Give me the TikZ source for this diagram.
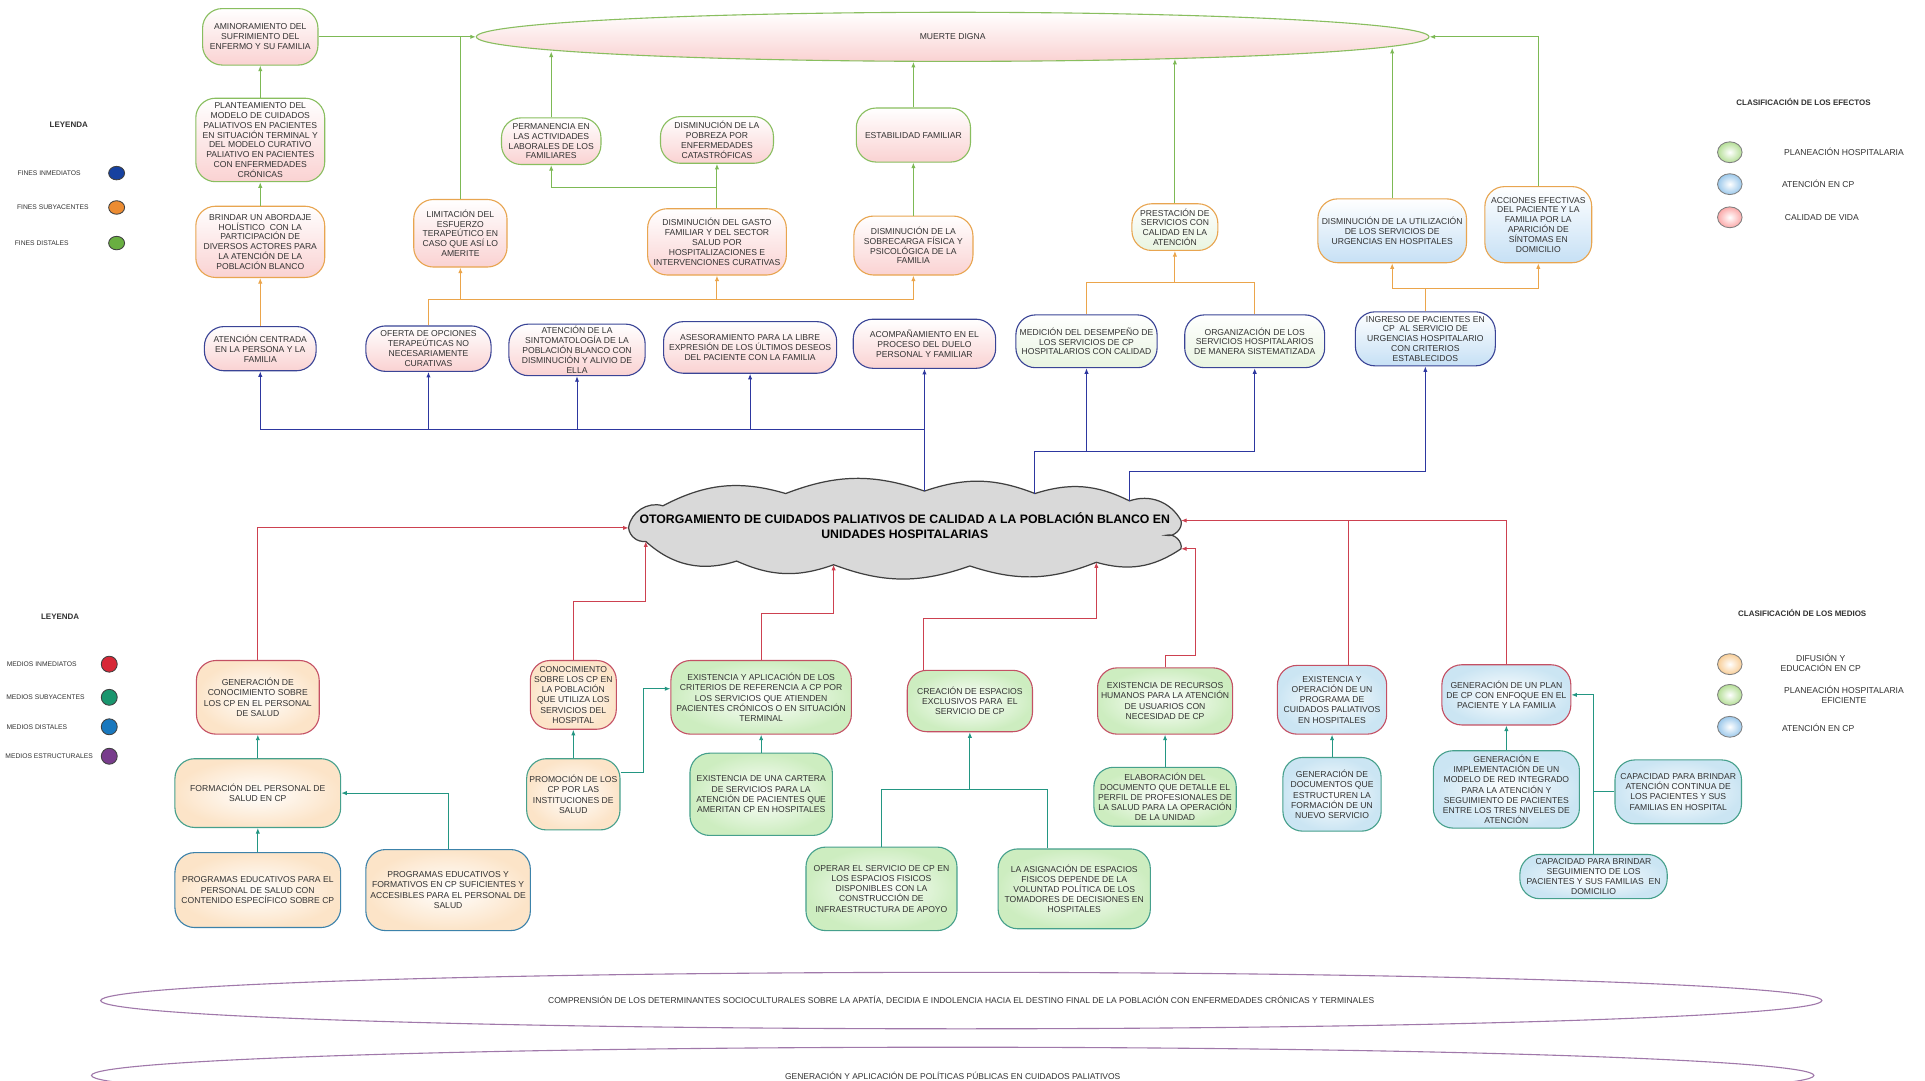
\documentclass[tikz,border=0pt]{standalone}
\usepackage{fontspec}
\setmainfont{Liberation Sans}
\usetikzlibrary{arrows.meta,shapes.geometric}
\definecolor{gB}{RGB}{137,190,95}
\definecolor{oB}{RGB}{232,165,80}
\definecolor{bB}{RGB}{58,68,150}
\definecolor{pkF}{RGB}{250,210,210}
\definecolor{blF}{RGB}{198,224,245}
\definecolor{grF}{RGB}{232,244,224}
\definecolor{rB}{RGB}{196,80,100}
\definecolor{tB}{RGB}{70,160,140}
\definecolor{sB}{RGB}{60,130,170}
\definecolor{peF}{RGB}{252,228,200}
\definecolor{lgF}{RGB}{205,237,192}
\definecolor{lbF}{RGB}{203,229,243}
\definecolor{gL}{RGB}{125,185,85}
\definecolor{oL}{RGB}{235,165,75}
\definecolor{bL}{RGB}{45,55,160}
\definecolor{rL}{RGB}{205,65,80}
\definecolor{tL}{RGB}{35,150,130}
\definecolor{puB}{RGB}{160,120,170}
\definecolor{txt}{RGB}{50,50,50}
\definecolor{cFI}{RGB}{22,65,160}
\definecolor{cFS}{RGB}{236,140,50}
\definecolor{cFD}{RGB}{105,175,65}
\definecolor{cMI}{RGB}{215,40,55}
\definecolor{cMS}{RGB}{25,150,110}
\definecolor{cMD}{RGB}{25,120,190}
\definecolor{cME}{RGB}{120,60,140}
\definecolor{cRo}{RGB}{248,205,150}
\definecolor{cRg}{RGB}{180,222,150}
\definecolor{cRb}{RGB}{155,200,235}
\definecolor{cloudF}{RGB}{217,217,217}
\begin{document}
\begin{tikzpicture}[x=1pt,y=-1pt]
\tikzset{
 bx/.style={rectangle, rounded corners=16pt, align=center, inner sep=1pt, font=\fontsize{7}{8}\selectfont, text=txt, line width=0.9pt},
 sz/.style 2 args={minimum width=#1pt, minimum height=#2pt},
 pk/.style={bx, top color=white, bottom color=pkF},
 blu/.style={bx, top color=white, bottom color=blF},
 grn/.style={bx, top color=white, bottom color=grF},
 bpe/.style={bx, font=\fontsize{7}{8.3}\selectfont, inner color=white, outer color=peF},
 bgr/.style={bx, font=\fontsize{7}{8.3}\selectfont, inner color=white, outer color=lgF},
 bbl/.style={bx, font=\fontsize{7}{8.3}\selectfont, inner color=white, outer color=lbF},
 con/.style={line width=0.8pt, -{Latex[length=4.5pt,width=3.5pt]}},
 lgr/.style={con, draw=gL},
 lor/.style={con, draw=oL},
 lbu/.style={con, draw=bL},
 lrd/.style={con, draw=rL},
 ltl/.style={con, draw=tL},
 cloudst/.style={draw=black!75, fill=cloudF, line width=1pt},
 lgc/.style={ellipse, draw=black!75, line width=0.7pt, inner sep=0pt, minimum width=13pt, minimum height=11pt},
 lgb/.style={ellipse, draw=black!50, line width=0.7pt, inner sep=0pt, minimum width=20pt, minimum height=17pt},
 lgs/.style={font=\fontsize{5.5}{6.5}\selectfont, text=txt, inner sep=0pt},
 lgm/.style={font=\fontsize{7}{8}\selectfont, text=txt, align=center, inner sep=0pt},
 lgh/.style={font=\bfseries\fontsize{6.5}{8}\selectfont, text=txt, inner sep=0pt},
 est/.style={ellipse, draw=puB, fill=white, line width=0.9pt, font=\fontsize{6.9}{8}\selectfont, text=txt}
}
\fill[white] (0,0) rectangle (1568,880);
\useasboundingbox (0,0) rectangle (1568,880);

% ---------------- top: effects ----------------
\node[ellipse, draw=gB, line width=0.9pt, top color=white, bottom color=pkF, minimum width=776pt, minimum height=40pt, font=\fontsize{7}{8}\selectfont, text=txt] (mdig) at (776,30) {MUERTE DIGNA};

\node[pk, draw=gB, sz={94}{46}] (amin) at (212,30) {AMINORAMIENTO DEL\\SUFRIMIENTO DEL\\ENFERMO Y SU FAMILIA};
\node[pk, draw=gB, sz={105}{68}] (plnt) at (212,114) {PLANTEAMIENTO DEL\\MODELO DE CUIDADOS\\PALIATIVOS EN PACIENTES\\EN SITUACIÓN TERMINAL Y\\DEL MODELO CURATIVO\\PALIATIVO EN PACIENTES\\CON ENFERMEDADES\\CRÓNICAS};
\node[pk, draw=oB, sz={105}{58}] (brin) at (212,197) {BRINDAR UN ABORDAJE\\HOLÍSTICO \ CON LA\\PARTICIPACIÓN DE\\DIVERSOS ACTORES PARA\\LA ATENCIÓN DE LA\\POBLACIÓN BLANCO};
\node[pk, draw=oB, sz={76}{55}] (limi) at (375,190) {LIMITACIÓN DEL\\ESFUERZO\\TERAPEÚTICO EN\\CASO QUE ASÍ LO\\AMERITE};
\node[pk, draw=gB, sz={81}{38}] (perm) at (449,115) {PERMANENCIA EN\\LAS ACTIVIDADES\\LABORALES DE LOS\\FAMILIARES};
\node[pk, draw=gB, sz={92}{38}] (pobr) at (584,114) {DISMINUCIÓN DE LA\\POBREZA POR\\ENFERMEDADES\\CATASTRÓFICAS};
\node[pk, draw=gB, sz={93}{44}] (esta) at (744,110) {ESTABILIDAD FAMILIAR};
\node[pk, draw=oB, sz={113}{54}] (gast) at (584,197) {DISMINUCIÓN DEL GASTO\\FAMILIAR Y DEL SECTOR\\SALUD POR\\HOSPITALIZACIONES E\\INTERVENCIONES CURATIVAS};
\node[pk, draw=oB, sz={97}{48}] (sobr) at (744,200) {DISMINUCIÓN DE LA\\SOBRECARGA FÍSICA Y\\PSICOLÓGICA DE LA\\FAMILIA};
\node[grn, draw=oB, sz={70}{38}] (pres) at (957,185) {PRESTACIÓN DE\\SERVICIOS CON\\CALIDAD EN LA\\ATENCIÓN};
\node[blu, draw=oB, sz={121}{52}] (util) at (1134,188) {DISMINUCIÓN DE LA UTILIZACIÓN\\DE LOS SERVICIOS DE\\URGENCIAS EN HOSPITALES};
\node[blu, draw=oB, sz={87}{62}] (acci) at (1253,183) {ACCIONES EFECTIVAS\\DEL PACIENTE Y LA\\FAMILIA POR LA\\APARICIÓN DE\\SÍNTOMAS EN\\DOMICILIO};

\node[pk, draw=bB, sz={91}{36}] (atcp) at (212,284) {ATENCIÓN CENTRADA\\EN LA PERSONA Y LA\\FAMILIA};
\node[pk, draw=bB, sz={102}{37}] (ofer) at (349,284) {OFERTA DE OPCIONES\\TERAPEÚTICAS NO\\NECESARIAMENTE\\CURATIVAS};
\node[pk, draw=bB, sz={111}{42}] (sint) at (470,285) {ATENCIÓN DE LA\\SINTOMATOLOGÍA DE LA\\POBLACIÓN BLANCO CON\\DISMINUCIÓN Y ALIVIO DE\\ELLA};
\node[pk, draw=bB, sz={141}{42}] (ases) at (611,283) {ASESORAMIENTO PARA LA LIBRE\\EXPRESIÓN DE LOS ÚLTIMOS DESEOS\\DEL PACIENTE CON LA FAMILIA};
\node[pk, draw=bB, sz={116}{40}] (acom) at (753,280) {ACOMPAÑAMIENTO EN EL\\PROCESO DEL DUELO\\PERSONAL Y FAMILIAR};
\node[grn, draw=bB, sz={115}{43}] (medi) at (885,278) {MEDICIÓN DEL DESEMPEÑO DE\\LOS SERVICIOS DE CP\\HOSPITALARIOS CON CALIDAD};
\node[grn, draw=bB, sz={114}{43}] (orga) at (1022,278) {ORGANIZACIÓN DE LOS\\SERVICIOS HOSPITALARIOS\\DE MANERA SISTEMATIZADA};
\node[blu, draw=bB, sz={114}{44}] (ingr) at (1161,276) {INGRESO DE PACIENTES EN\\CP \ AL SERVICIO DE\\URGENCIAS HOSPITALARIO\\CON CRITERIOS\\ESTABLECIDOS};

% ---------------- cloud ----------------
\coordinate (cl0) at (512,430);
\coordinate (cl1) at (540,412);
\coordinate (cl2) at (640,402);
\coordinate (cl3) at (753,400);
\coordinate (cl4) at (843,402);
\coordinate (cl5) at (920,408);
\coordinate (cl6) at (962,424);
\coordinate (cl7) at (950,436);
\coordinate (cl8) at (962,447);
\coordinate (cl9) at (893,458);
\coordinate (cl10) at (790,461);
\coordinate (cl11) at (679,460);
\coordinate (cl12) at (600,457);
\coordinate (cl13) at (526,441);
\draw[cloudst] (cl0) to[bend left=50] (cl1) to[bend left=22] (cl2) to[bend left=20] (cl3)
  to[bend left=20] (cl4) to[bend left=22] (cl5) to[bend left=40] (cl6) to[bend left=60] (cl7)
  to[bend left=60] (cl8) to[bend left=25] (cl9) to[bend left=20] (cl10) to[bend left=20] (cl11)
  to[bend left=22] (cl12) to[bend left=30] (cl13) to[bend left=45] (cl0) -- cycle;
\node[font=\bfseries\fontsize{10}{12}\selectfont, align=center, text=black, inner sep=0pt] (ctxt) at (737,428) {OTORGAMIENTO DE CUIDADOS PALIATIVOS DE CALIDAD A LA POBLACIÓN BLANCO EN\\UNIDADES HOSPITALARIAS};

% ---------------- bottom: means ----------------
\node[bpe, draw=rB, sz={100}{60}] (gcon) at (210,568) {GENERACIÓN DE\\CONOCIMIENTO SOBRE\\LOS CP EN EL PERSONAL\\DE SALUD};
\node[bpe, draw=tB, sz={135}{56}] (form) at (210,646) {FORMACIÓN DEL PERSONAL DE\\SALUD EN CP};
\node[bpe, draw=sB, sz={135}{61}] (prg1) at (210,725) {PROGRAMAS EDUCATIVOS PARA EL\\PERSONAL DE SALUD CON\\CONTENIDO ESPECÍFICO SOBRE CP};
\node[bpe, draw=sB, sz={134}{66}] (prg2) at (365,725) {PROGRAMAS EDUCATIVOS Y\\FORMATIVOS EN CP SUFICIENTES Y\\ACCESIBLES PARA EL PERSONAL DE\\SALUD};
\node[bpe, draw=rB, sz={70}{56}] (cono) at (467,566) {CONOCIMIENTO\\SOBRE LOS CP EN\\LA POBLACIÓN\\QUE UTILIZA LOS\\SERVICIOS DEL\\HOSPITAL};
\node[bpe, draw=tB, sz={76}{58}] (prom) at (467,647) {PROMOCIÓN DE LOS\\CP POR LAS\\INSTITUCIONES DE\\SALUD};
\node[bgr, draw=rB, sz={147}{60}] (exap) at (620,568) {EXISTENCIA Y APLICACIÓN DE LOS\\CRITERIOS DE REFERENCIA A CP POR\\LOS SERVICIOS QUE ATIENDEN\\PACIENTES CRÓNICOS O EN SITUACIÓN\\TERMINAL};
\node[bgr, draw=tB, sz={116}{67}] (cart) at (620,647) {EXISTENCIA DE UNA CARTERA\\DE SERVICIOS PARA LA\\ATENCIÓN DE PACIENTES QUE\\AMERITAN CP EN HOSPITALES};
\node[bgr, draw=rB, sz={102}{50}] (crea) at (790,571) {CREACIÓN DE ESPACIOS\\EXCLUSIVOS PARA \ EL\\SERVICIO DE CP};
\node[bgr, draw=tB, sz={123}{68}] (oper) at (718,724) {OPERAR EL SERVICIO DE CP EN\\LOS ESPACIOS FISICOS\\DISPONIBLES CON LA\\CONSTRUCCIÓN DE\\INFRAESTRUCTURA DE APOYO};
\node[bgr, draw=tB, sz={124}{65}] (asig) at (875,724) {LA ASIGNACIÓN DE ESPACIOS\\FISICOS DEPENDE DE LA\\VOLUNTAD POLÍTICA DE LOS\\TOMADORES DE DECISIONES EN\\HOSPITALES};
\node[bgr, draw=rB, sz={110}{54}] (recu) at (949,571) {EXISTENCIA DE RECURSOS\\HUMANOS PARA LA ATENCIÓN\\DE USUARIOS CON\\NECESIDAD DE CP};
\node[bgr, draw=tB, sz={116}{48}] (elab) at (949,649) {ELABORACIÓN DEL\\DOCUMENTO QUE DETALLE EL\\PERFIL DE PROFESIONALES DE\\LA SALUD PARA LA OPERACIÓN\\DE LA UNIDAD};
\node[bbl, draw=rB, sz={89}{56}] (exop) at (1085,570) {EXISTENCIA Y\\OPERACIÓN DE UN\\PROGRAMA DE\\CUIDADOS PALIATIVOS\\EN HOSPITALES};
\node[bbl, draw=tB, sz={80}{60}] (gdoc) at (1085,647) {GENERACIÓN DE\\DOCUMENTOS QUE\\ESTRUCTUREN LA\\FORMACIÓN DE UN\\NUEVO SERVICIO};
\node[bbl, draw=rB, sz={105}{49}] (gpla) at (1227,566) {GENERACIÓN DE UN PLAN\\DE CP CON ENFOQUE EN EL\\PACIENTE Y LA FAMILIA};
\node[bbl, draw=tB, sz={119}{63}] (gred) at (1227,643) {GENERACIÓN E\\IMPLEMENTACIÓN DE UN\\MODELO DE RED INTEGRADO\\PARA LA ATENCIÓN Y\\SEGUIMIENTO DE PACIENTES\\ENTRE LOS TRES NIVELES DE\\ATENCIÓN};
\node[bbl, draw=tB, sz={103}{52}] (chos) at (1367,645) {CAPACIDAD PARA BRINDAR\\ATENCIÓN CONTINUA DE\\LOS PACIENTES Y SUS\\FAMILIAS EN HOSPITAL};
\node[bbl, draw=tB, sz={120}{36}] (cdom) at (1298,714) {CAPACIDAD PARA BRINDAR\\SEGUIMIENTO DE LOS\\PACIENTES Y SUS FAMILIAS \ EN\\DOMICILIO};

% structural ellipses
\node[est, minimum width=1402pt, minimum height=46pt] (est1) at (783,815) {COMPRENSIÓN DE LOS DETERMINANTES SOCIOCULTURALES SOBRE LA APATÍA, DECIDIA E INDOLENCIA HACIA EL DESTINO FINAL DE LA POBLACIÓN CON ENFERMEDADES CRÓNICAS Y TERMINALES};
\node[est, minimum width=1403pt, minimum height=46pt] (est2) at (776,876) {GENERACIÓN Y APLICACIÓN DE POLÍTICAS PÚBLICAS EN CUIDADOS PALIATIVOS};

% ---------------- connectors: blue ----------------
\coordinate (busA) at (0,350);
\coordinate (busB) at (0,368);
\coordinate (busC) at (0,384);
\draw[lbu] (cl3) -- (acom.south);
\draw[lbu,-] (cl3 |- busA) -- (atcp.south |- busA);
\foreach \n in {atcp,ofer,sint,ases} \draw[lbu] (\n.south |- busA) -- (\n.south);
\draw[lbu,-] (cl4) |- (orga.south |- busB);
\draw[lbu] (medi.south |- busB) -- (medi.south);
\draw[lbu] (orga.south |- busB) -- (orga.south);
\draw[lbu] (cl5) |- (ingr.south |- busC) -- (ingr.south);

% orange
\coordinate (busD) at (0,244);
\coordinate (busE) at (0,230);
\coordinate (busF) at (0,235);
\draw[lor] (atcp.north) -- (brin.south);
\draw[lor,-] (ofer.north) |- (sobr.south |- busD);
\foreach \n in {limi,gast,sobr} \draw[lor] (\n.south |- busD) -- (\n.south);
\draw[lor,-] (medi.north) |- (orga.north |- busE) -- (orga.north);
\draw[lor] (pres.south |- busE) -- (pres.south);
\draw[lor,-] (ingr.north) -- (ingr.north |- busF);
\draw[lor,-] (util.south |- busF) -- (acci.south |- busF);
\draw[lor] (util.south |- busF) -- (util.south);
\draw[lor] (acci.south |- busF) -- (acci.south);

% green
\coordinate (busG) at (0,153);
\coordinate (mdA) at (449,42);
\coordinate (mdC) at (957,48);
\coordinate (mdD) at (1134,39);
\draw[lgr] (brin.north) -- (plnt.south);
\draw[lgr] (plnt.north) -- (amin.south);
\draw[lgr] (amin.east) -- (mdig.west);
\draw[lgr,-] (limi.north) -- (limi.north |- mdig.west);
\draw[lgr] (gast.north) -- (pobr.south);
\draw[lgr] (gast.north |- busG) -| (perm.south);
\draw[lgr] (perm.north) -- (mdA);
\draw[lgr] (sobr.north) -- (esta.south);
\draw[lgr] (esta.north) -- (esta.north |- mdig.south);
\draw[lgr] (pres.north) -- (mdC);
\draw[lgr] (util.north) -- (mdD);
\draw[lgr] (acci.north) |- (mdig.east);

% teal
\coordinate (busH) at (0,643);
\coordinate (ja) at (524,561);
\coordinate (jas) at (853,690);
\draw[ltl] (form.north) -- (gcon.south);
\draw[ltl] (prg1.north) -- (form.south);
\draw[ltl] (prg2.north) |- (form.east);
\draw[ltl] (prom.north) -- (cono.south);
\draw[ltl] (prom.25) -| (ja) -- (exap.west |- ja);
\draw[ltl] (cart.north) -- (exap.south);
\draw[ltl,-] (oper.north) |- (jas |- busH) -- (jas |- asig.north);
\draw[ltl] (crea.south |- busH) -- (crea.south);
\draw[ltl] (elab.north) -- (recu.south);
\draw[ltl] (gdoc.north) -- (exop.south);
\draw[ltl] (gred.north) -- (gpla.south);
\draw[ltl] (cdom.north) |- (gpla.east);
\draw[ltl,-] (chos.west) -- (chos.west -| cdom.north);

% red
\coordinate (busI) at (0,490);
\coordinate (busJ) at (0,500);
\coordinate (busK) at (0,504);
\coordinate (jc) at (752,0);
\coordinate (jd) at (974,534);
\coordinate (je) at (1098,0);
\draw[lrd] (gcon.north) |- (cl0);
\draw[lrd] (cono.north) |- (cl13 |- busI) -- (cl13);
\draw[lrd] (exap.north) |- (cl11 |- busJ) -- (cl11);
\draw[lrd] (jc |- crea.north) |- (cl9 |- busK) -- (cl9);
\draw[lrd] (recu.north) |- (jd) |- (cl8);
\draw[lrd] (je |- exop.north) |- (cl6);
\draw[lrd,-] (gpla.north) |- (je |- cl6);

% ---------------- legends ----------------
\node[lgh] (ley1) at (56,102) {LEYENDA};
\node[lgs] (lf1) at (40,141) {FINES INMEDIATOS};
\node[lgs] (lf2) at (43,169) {FINES SUBYACENTES};
\node[lgs] (lf3) at (34,198) {FINES DISTALES};
\node[lgc, fill=cFI] (cf1) at (95,141) {};
\node[lgc, fill=cFS] (cf2) at (95,169) {};
\node[lgc, fill=cFD] (cf3) at (95,198) {};

\node[lgh] (ley2) at (49,502) {LEYENDA};
\node[lgs] (lm1) at (34,541) {MEDIOS INMEDIATOS};
\node[lgs] (lm2) at (37,568) {MEDIOS SUBYACENTES};
\node[lgs] (lm3) at (30,592) {MEDIOS DISTALES};
\node[lgs] (lm4) at (40,616) {MEDIOS ESTRUCTURALES};
\node[lgc, fill=cMI, minimum height=13pt] (cm1) at (89,541) {};
\node[lgc, fill=cMS, minimum height=13pt] (cm2) at (89,568) {};
\node[lgc, fill=cMD, minimum height=13pt] (cm3) at (89,592) {};
\node[lgc, fill=cME, minimum height=13pt] (cm4) at (89,616) {};

\node[lgh] (cle) at (1469,83) {CLASIFICACIÓN DE LOS EFECTOS};
\node[lgb, inner color=white, outer color=cRg] (ce1) at (1409,124) {};
\node[lgb, inner color=white, outer color=cRb] (ce2) at (1409,150) {};
\node[lgb, inner color=white, outer color=pkF!80!red] (ce3) at (1409,177) {};
\node[lgm] (te1) at (1502,124) {PLANEACIÓN HOSPITALARIA};
\node[lgm] (te2) at (1481,150) {ATENCIÓN EN CP};
\node[lgm] (te3) at (1484,177) {CALIDAD DE VIDA};

\node[lgh] (clm) at (1468,499) {CLASIFICACIÓN DE LOS MEDIOS};
\node[lgb, inner color=white, outer color=cRo] (cc1) at (1409,541) {};
\node[lgb, inner color=white, outer color=cRg] (cc2) at (1409,566) {};
\node[lgb, inner color=white, outer color=cRb] (cc3) at (1409,592) {};
\node[lgm] (tm1) at (1483,540) {DIFUSIÓN Y\\EDUCACIÓN EN CP};
\node[lgm] (tm2) at (1502,566) {PLANEACIÓN HOSPITALARIA\\EFICIENTE};
\node[lgm] (tm3) at (1481,593) {ATENCIÓN EN CP};
\end{tikzpicture}
\end{document}
